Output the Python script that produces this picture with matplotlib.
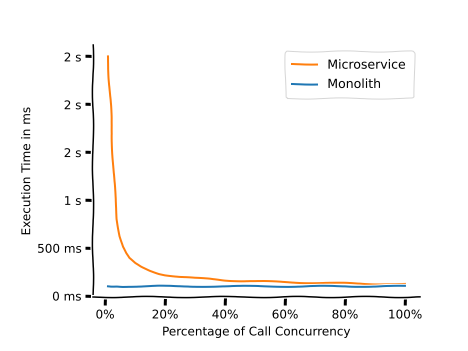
import matplotlib
matplotlib.use("Agg")
import matplotlib.pyplot as plt
from matplotlib.ticker import FuncFormatter, MultipleLocator, PercentFormatter

# percentage of concurrent calls
concurrency = [1, 2, 3, 4, 5, 6, 7, 8, 10, 12, 15, 18, 20, 25, 30, 35, 40,
               45, 50, 55, 60, 65, 70, 75, 80, 85, 90, 95, 100]
# execution time in ms
microservice = [2500, 1900, 1200, 800, 620, 510, 440, 390, 335, 298, 258, 230,
                217, 196, 180, 172, 160, 154, 148, 144, 140, 136, 133, 130,
                127, 125, 122, 120, 116]
monolith = [96, 94, 95, 97, 96, 95, 96, 97, 96, 95, 96, 97, 96, 95, 96, 97,
            96, 95, 96, 95, 96, 97, 96, 95, 96, 97, 96, 95, 96]


def time_fmt(v, pos):
    # show ms below one second, rounded seconds above
    if v < 1000:
        return f"{v:.0f} ms"
    return f"{round(v / 1000):.0f} s"


with plt.xkcd(scale=0.6, length=80, randomness=2):
    plt.rcParams["font.family"] = ["DejaVu Sans"]
    fig = plt.figure(figsize=(6.5, 4.875), dpi=72)
    ax = fig.add_axes([0.199, 0.154, 0.698, 0.718])

    ax.plot(concurrency, microservice, color="#ff7f0e", label="Microservice")
    ax.plot(concurrency, monolith, color="#1f77b4", label="Monolith")

    ax.spines["top"].set_visible(False)
    ax.spines["right"].set_visible(False)

    ax.set_xlim(-3.95, 104.95)
    ax.set_ylim(-15, 2620)
    ax.xaxis.set_major_locator(MultipleLocator(20))
    ax.xaxis.set_major_formatter(PercentFormatter(decimals=0))
    ax.yaxis.set_major_locator(MultipleLocator(500))
    ax.yaxis.set_major_formatter(FuncFormatter(time_fmt))
    ax.tick_params(labelsize=12)

    ax.set_xlabel("Percentage of Call Concurrency", fontsize=12)
    ax.set_ylabel("Execution Time in ms", fontsize=12)
    ax.legend(loc="upper right", fontsize=12.5, borderpad=0.6)

    fig.savefig("out.png", dpi=72)
